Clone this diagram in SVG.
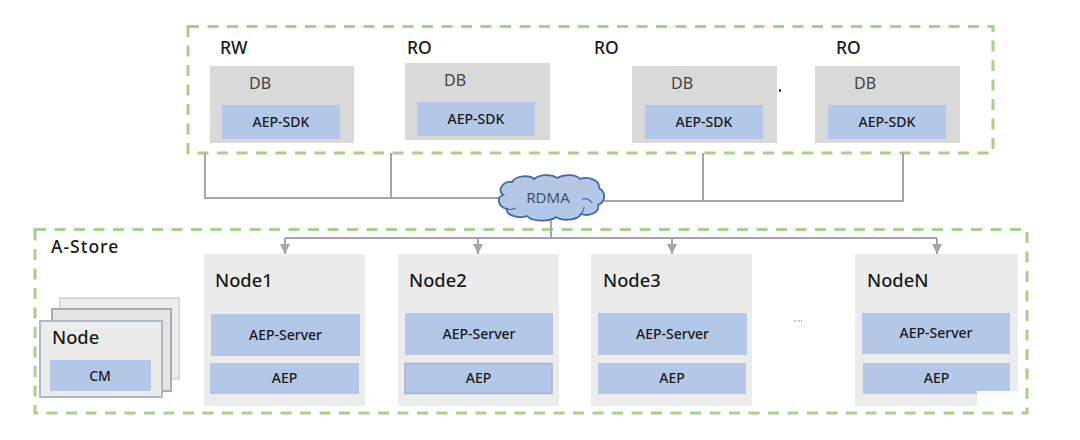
<svg xmlns="http://www.w3.org/2000/svg" width="1080" height="440" viewBox="0 0 1080 440">
<style>
text{font-family:"Noto Sans","Noto Sans CJK SC","Liberation Sans",sans-serif;text-anchor:middle;fill:#1a1a1a}
.zone{fill:none;stroke:#a9d18e;stroke-width:3;stroke-dasharray:11 8.5}
.db{fill:#d9d9d9}.node{fill:#ececec}.blue{fill:#b4c7e7}
.wire{fill:none;stroke:#a6a6a6;stroke-width:2}
.h{font-size:17.5px;font-weight:500;text-anchor:start}
.n{font-size:18.300px;font-weight:500;text-anchor:start}
.l{font-size:14px;font-weight:500}
.d{font-size:16px;fill:#444;text-anchor:start}
</style>
<defs><marker id="a" markerUnits="userSpaceOnUse" markerWidth="11" markerHeight="10" refX="10" refY="5" orient="auto"><path d="M0 0L10 5L0 10z" fill="#a6a6a6"/></marker></defs>
<rect width="1080" height="440" fill="#fff"/>
<rect id="zone-top" class="zone" x="188" y="26.500" width="805" height="126.500"/>
<rect id="zone-astore" class="zone" x="35" y="229.500" width="992" height="183.500"/>
<g id="connectors">
<path class="wire" d="M205 153V198H500M391 153V198M604 201H903V153M703 153V202"/>
<path class="wire" d="M551 221V238M285 238H937"/>
<path class="wire" marker-end="url(#a)" d="M285 238V254"/>
<path class="wire" marker-end="url(#a)" d="M478 238V254"/>
<path class="wire" marker-end="url(#a)" d="M672 238V254"/>
<path class="wire" marker-end="url(#a)" d="M937 238V254"/>
</g>
<g id="db-rw"><text class="h" x="220" y="54">RW</text><rect class="db" x="210" y="66" width="144" height="77"/><text class="d" x="249" y="89">DB</text><rect class="blue" x="222" y="105" width="118" height="34"/><text class="l" x="281" y="127">AEP-SDK</text></g>
<g id="db-ro1"><text class="h" x="407" y="54">RO</text><rect class="db" x="405" y="63" width="145" height="77"/><text class="d" x="444" y="86">DB</text><rect class="blue" x="417" y="102" width="118" height="34"/><text class="l" x="476" y="124">AEP-SDK</text></g>
<g id="db-ro2"><text class="h" x="594" y="54">RO</text><rect class="db" x="632" y="66" width="145" height="77"/><text class="d" x="671" y="89">DB</text><rect class="blue" x="645" y="105" width="118" height="34"/><text class="l" x="704" y="127">AEP-SDK</text></g>
<g id="db-ro3"><text class="h" x="836" y="54">RO</text><rect class="db" x="815" y="66" width="145" height="77"/><text class="d" x="854" y="89">DB</text><rect class="blue" x="828" y="105" width="118" height="34"/><text class="l" x="887" y="127">AEP-SDK</text></g>
<rect x="779" y="89" width="2" height="3" fill="#1f4e79"/>
<g id="rdma">
<path d="M512 182C516 175 530 175 534 179C540 174 552 174 557 178C564 174 576 174 580 179C588 176 600 180 599 188C606 192 606 202 598 205C600 212 590 217 581 214C577 221 562 221 556 217C550 222 532 222 527 216C519 219 505 215 507 209C498 207 496 197 503 195C497 190 503 181 512 182Z" fill="#b4c7e7" stroke="#3f6aa3" stroke-width="1.800"/>
<path d="M507 209C510 210 514 209 516 208M581 214C583 212 584 210 584 207M582 199C586 198 590 200 592 203" fill="none" stroke="#3f6aa3" stroke-width="1.200"/>
<text x="548" y="203" font-size="15" style="fill:#44546a">RDMA</text></g>
<text class="h" x="51" y="253" style="font-size:17.500px;letter-spacing:1px">A-Store</text>
<g id="node-stack">
<rect x="60" y="298" width="119" height="81" fill="#ececec" stroke="#d9d9d9" stroke-width="2"/>
<rect x="52" y="309" width="119" height="82" fill="#e4e4e4" stroke="#aeaaaa" stroke-width="2"/>
<rect x="40" y="321" width="122" height="76" fill="#ececec" stroke="#adb9ca" stroke-width="2"/>
<text class="n" x="52" y="344">Node</text>
<rect class="blue" x="50" y="360" width="101" height="31"/><text class="l" x="100" y="381">CM</text></g>
<g id="node1"><rect class="node" x="204" y="254" width="161" height="152"/><text class="n" x="215" y="287">Node1</text><rect class="blue" x="211" y="314" width="149" height="42"/><text class="l" x="285.500" y="340">AEP-Server</text><rect class="blue" x="210" y="363" width="149" height="31"/><text class="l" x="284.500" y="383">AEP</text></g>
<g id="node2"><rect class="node" x="398" y="254" width="161" height="152"/><text class="n" x="409" y="287">Node2</text><rect class="blue" x="405" y="313" width="148" height="42"/><text class="l" x="479" y="339">AEP-Server</text><rect class="blue" x="405" y="363.500" width="147" height="30" stroke="#a9b4c4" stroke-width="1.500"/><text class="l" x="478.500" y="383">AEP</text></g>
<g id="node3"><rect class="node" x="591" y="254" width="161" height="152"/><text class="n" x="603" y="287">Node3</text><rect class="blue" x="598" y="313" width="149" height="42"/><text class="l" x="672.500" y="339">AEP-Server</text><rect class="blue" x="598" y="363" width="148" height="31"/><text class="l" x="672" y="383">AEP</text></g>
<g id="nodeN"><rect class="node" x="855" y="254" width="163" height="152"/><text class="n" x="867" y="287">NodeN</text><rect class="blue" x="862" y="313" width="148" height="41"/><text class="l" x="936" y="338">AEP-Server</text><rect class="blue" x="863" y="363" width="147" height="31"/><text class="l" x="936.500" y="383">AEP</text></g>
<path d="M794 321h1M796.500 321h1M799 321h1M801 321h1" stroke="#666" fill="none"/>
<rect x="977" y="391" width="41" height="15" fill="#fff" opacity=".85"/>
</svg>
